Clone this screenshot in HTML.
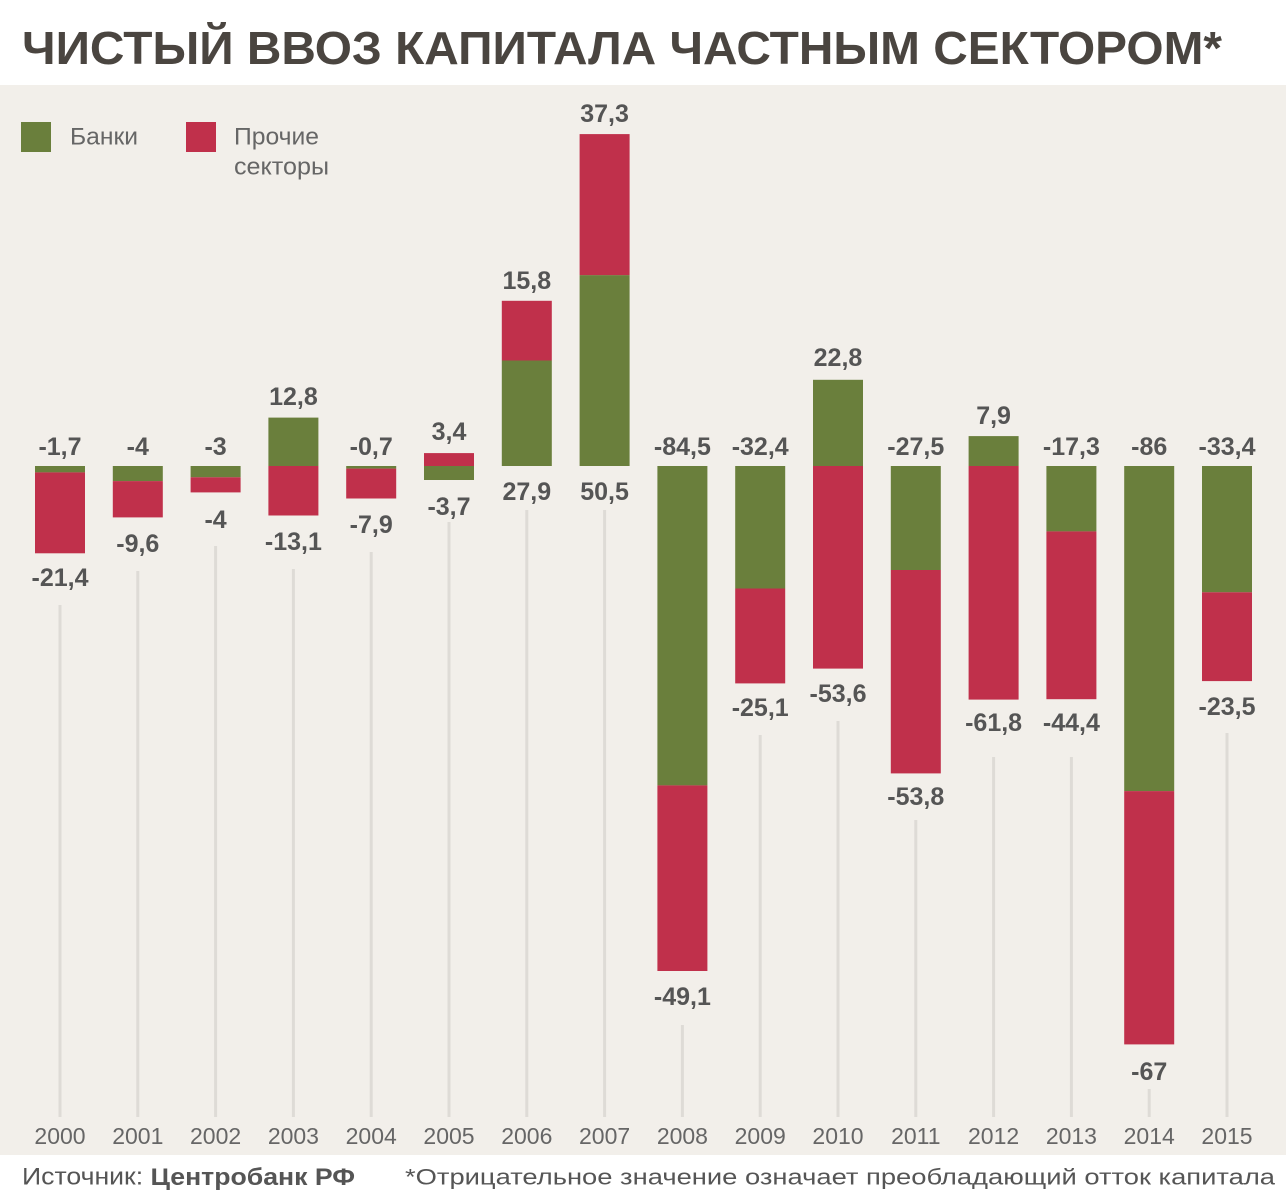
<!DOCTYPE html>
<html><head><meta charset="utf-8"><style>
html,body{margin:0;padding:0;background:#fff}
svg{display:block}
text{font-family:"Liberation Sans","Noto Sans CJK SC",sans-serif}
.v{font-size:25px;font-weight:bold;fill:#555;text-anchor:middle;dominant-baseline:central}
.y{font-size:23px;fill:#666;text-anchor:middle;dominant-baseline:central}
.g{fill:#6a7f3c}.r{fill:#c0304b}
.l{stroke:#dedbd6;stroke-width:3}
</style></head><body>
<svg width="1286" height="1200" viewBox="0 0 1286 1200">
<rect x="0" y="0" width="1286" height="1200" fill="#fff"/>
<rect x="0" y="85" width="1286" height="1070" fill="#f2efea"/>
<text x="22" y="48" font-size="46" font-weight="bold" fill="#4a4540" dominant-baseline="central" textLength="1200" lengthAdjust="spacingAndGlyphs">ЧИСТЫЙ ВВОЗ КАПИТАЛА ЧАСТНЫМ СЕКТОРОМ*</text>
<!-- legend -->
<rect x="21" y="122" width="30" height="30" class="g"/>
<text x="70" y="137" font-size="24" fill="#666" dominant-baseline="central" textLength="68" lengthAdjust="spacingAndGlyphs">Банки</text>
<rect x="186" y="122" width="30" height="30" class="r"/>
<text x="234" y="137" font-size="24" fill="#666" dominant-baseline="central" textLength="85" lengthAdjust="spacingAndGlyphs">Прочие</text>
<text x="234" y="167" font-size="24" fill="#666" dominant-baseline="central" textLength="95" lengthAdjust="spacingAndGlyphs">секторы</text>
<!-- lines -->
<g class="l">
<line x1="60" y1="605" x2="60" y2="1117"/>
<line x1="137.8" y1="571" x2="137.8" y2="1117"/>
<line x1="215.6" y1="546" x2="215.6" y2="1117"/>
<line x1="293.4" y1="569" x2="293.4" y2="1117"/>
<line x1="371.2" y1="552" x2="371.2" y2="1117"/>
<line x1="449" y1="522" x2="449" y2="1117"/>
<line x1="526.8" y1="510" x2="526.8" y2="1117"/>
<line x1="604.6" y1="510" x2="604.6" y2="1117"/>
<line x1="682.4" y1="1025" x2="682.4" y2="1117"/>
<line x1="760.2" y1="735" x2="760.2" y2="1117"/>
<line x1="838" y1="721" x2="838" y2="1117"/>
<line x1="915.8" y1="820" x2="915.8" y2="1117"/>
<line x1="993.6" y1="757" x2="993.6" y2="1117"/>
<line x1="1071.4" y1="757" x2="1071.4" y2="1117"/>
<line x1="1149.2" y1="1089" x2="1149.2" y2="1117"/>
<line x1="1227" y1="733" x2="1227" y2="1117"/>
</g>
<!-- bars -->
<rect x="35" y="466" width="50" height="6.4" class="g"/><rect x="35" y="472.4" width="50" height="80.9" class="r"/>
<rect x="112.8" y="466" width="50" height="15.1" class="g"/><rect x="112.8" y="481.1" width="50" height="36.3" class="r"/>
<rect x="190.6" y="466" width="50" height="11.3" class="g"/><rect x="190.6" y="477.3" width="50" height="15.1" class="r"/>
<rect x="268.4" y="417.6" width="50" height="48.4" class="g"/><rect x="268.4" y="466" width="50" height="49.5" class="r"/>
<rect x="346.2" y="466" width="50" height="2.6" class="g"/><rect x="346.2" y="468.6" width="50" height="29.9" class="r"/>
<rect x="424" y="453.1" width="50" height="12.9" class="r"/><rect x="424" y="466" width="50" height="14" class="g"/>
<rect x="501.8" y="360.5" width="50" height="105.5" class="g"/><rect x="501.8" y="300.8" width="50" height="59.7" class="r"/>
<rect x="579.6" y="275.1" width="50" height="190.9" class="g"/><rect x="579.6" y="134.1" width="50" height="141" class="r"/>
<rect x="657.4" y="466" width="50" height="319.4" class="g"/><rect x="657.4" y="785.4" width="50" height="185.6" class="r"/>
<rect x="735.2" y="466" width="50" height="122.5" class="g"/><rect x="735.2" y="588.5" width="50" height="94.9" class="r"/>
<rect x="813" y="379.8" width="50" height="86.2" class="g"/><rect x="813" y="466" width="50" height="202.6" class="r"/>
<rect x="890.8" y="466" width="50" height="104" class="g"/><rect x="890.8" y="570" width="50" height="203.4" class="r"/>
<rect x="968.6" y="436.1" width="50" height="29.9" class="g"/><rect x="968.6" y="466" width="50" height="233.6" class="r"/>
<rect x="1046.4" y="466" width="50" height="65.4" class="g"/><rect x="1046.4" y="531.4" width="50" height="167.8" class="r"/>
<rect x="1124.2" y="466" width="50" height="325.1" class="g"/><rect x="1124.2" y="791.1" width="50" height="253.3" class="r"/>
<rect x="1202" y="466" width="50" height="126.3" class="g"/><rect x="1202" y="592.3" width="50" height="88.8" class="r"/>
<!-- value labels -->
<text class="v" x="60" y="447">-1,7</text><text class="v" x="60" y="578">-21,4</text>
<text class="v" x="137.8" y="447">-4</text><text class="v" x="137.8" y="544">-9,6</text>
<text class="v" x="215.6" y="447">-3</text><text class="v" x="215.6" y="520">-4</text>
<text class="v" x="293.4" y="397">12,8</text><text class="v" x="293.4" y="542">-13,1</text>
<text class="v" x="371.2" y="447">-0,7</text><text class="v" x="371.2" y="525">-7,9</text>
<text class="v" x="449" y="432">3,4</text><text class="v" x="449" y="507">-3,7</text>
<text class="v" x="526.8" y="281">15,8</text><text class="v" x="526.8" y="492">27,9</text>
<text class="v" x="604.6" y="114">37,3</text><text class="v" x="604.6" y="492">50,5</text>
<text class="v" x="682.4" y="447">-84,5</text><text class="v" x="682.4" y="997">-49,1</text>
<text class="v" x="760.2" y="447">-32,4</text><text class="v" x="760.2" y="708">-25,1</text>
<text class="v" x="838" y="358">22,8</text><text class="v" x="838" y="694">-53,6</text>
<text class="v" x="915.8" y="447">-27,5</text><text class="v" x="915.8" y="797">-53,8</text>
<text class="v" x="993.6" y="416">7,9</text><text class="v" x="993.6" y="723">-61,8</text>
<text class="v" x="1071.4" y="447">-17,3</text><text class="v" x="1071.4" y="723">-44,4</text>
<text class="v" x="1149.2" y="447">-86</text><text class="v" x="1149.2" y="1072">-67</text>
<text class="v" x="1227" y="447">-33,4</text><text class="v" x="1227" y="707">-23,5</text>
<!-- years -->
<text class="y" x="60" y="1136">2000</text><text class="y" x="137.8" y="1136">2001</text>
<text class="y" x="215.6" y="1136">2002</text><text class="y" x="293.4" y="1136">2003</text>
<text class="y" x="371.2" y="1136">2004</text><text class="y" x="449" y="1136">2005</text>
<text class="y" x="526.8" y="1136">2006</text><text class="y" x="604.6" y="1136">2007</text>
<text class="y" x="682.4" y="1136">2008</text><text class="y" x="760.2" y="1136">2009</text>
<text class="y" x="838" y="1136">2010</text><text class="y" x="915.8" y="1136">2011</text>
<text class="y" x="993.6" y="1136">2012</text><text class="y" x="1071.4" y="1136">2013</text>
<text class="y" x="1149.2" y="1136">2014</text><text class="y" x="1227" y="1136">2015</text>
<!-- footer -->
<text x="22" y="1177" font-size="24" fill="#555" dominant-baseline="central" textLength="333" lengthAdjust="spacingAndGlyphs">Источник: <tspan font-weight="bold">Центробанк РФ</tspan></text>
<text x="405" y="1177" font-size="22" fill="#555" dominant-baseline="central" textLength="870" lengthAdjust="spacingAndGlyphs">*Отрицательное значение означает преобладающий отток капитала</text>
</svg>
</body></html>
